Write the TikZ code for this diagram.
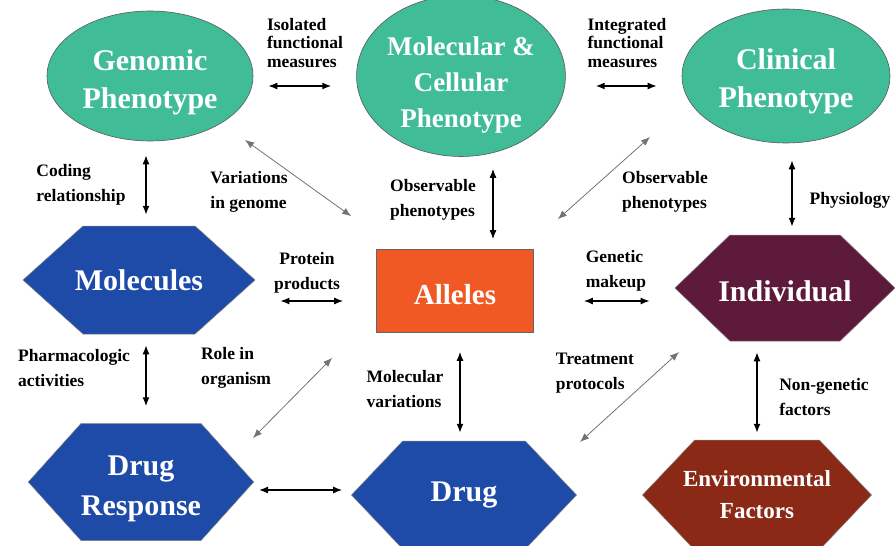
\documentclass[tikz,border=0pt]{standalone}
\usepackage{fontspec}
\setmainfont{Liberation Serif}
\usetikzlibrary{shapes.geometric, shapes.symbols, calc, arrows.meta}

\definecolor{mint}{RGB}{64,188,150}
\definecolor{royal}{RGB}{30,74,168}
\definecolor{flame}{RGB}{240,88,36}
\definecolor{plum}{RGB}{94,26,58}
\definecolor{rust}{RGB}{138,42,22}

% strut that pushes a node's text down
\newcommand{\lowerby}[1]{\rule{0pt}{#1}}

\tikzset{
	pheno/.style={ellipse, draw=black!65, line width=0.6pt, fill=mint, text=white, align=center, inner sep=0pt, font=\fontsize{30}{38}\selectfont\bfseries},
	hexa/.style={signal, signal to=east and west, draw=black!50, line width=0.5pt, text=white, align=center, inner sep=0pt, font=\fontsize{30}{40}\selectfont\bfseries},
	lbl/.style={align=left, inner sep=0pt, font=\fontsize{17.5}{24.5}\selectfont\bfseries},
	dbl/.style={{Latex[length=9pt,width=7pt]}-{Latex[length=9pt,width=7pt]}, line width=1.3pt},
	diag/.style={dbl, line width=0.8pt, draw=black!55},
}

\begin{document}
\begin{tikzpicture}[x=1pt, y=-1pt]
		\useasboundingbox (0,0) rectangle (895,546);
		% phenotypes
		\node[pheno, minimum width=206pt, minimum height=130pt] (gen) at (150,76) {\lowerby{34pt}Genomic\\Phenotype};
		\node[pheno, minimum width=202pt, minimum height=148pt, font=\fontsize{27}{36}\selectfont\bfseries] (mce) at (461,76) {\lowerby{36pt}Molecular \&\\Cellular\\Phenotype};
		\node[pheno, minimum width=208pt, minimum height=134pt] (cli) at (786,76) {\lowerby{32pt}Clinical\\Phenotype};
		% middle row
		\node[hexa, fill=royal, minimum width=232pt, minimum height=108pt, signal pointer angle=84] (mol) at (139,280) {\makebox[0pt]{Molecules}};
		\node[rectangle, draw=black!60, line width=0.6pt, fill=flame, text=white, minimum width=157pt, minimum height=83pt, font=\fontsize{29}{36}\selectfont\bfseries] (all) at (455,291) {\lowerby{28pt}Alleles};
		\node[hexa, fill=plum, minimum width=220pt, minimum height=106pt, signal pointer angle=88] (ind) at (785,288) {\lowerby{28pt}\makebox[0pt]{Individual}};
		% bottom row
		\node[hexa, fill=royal, minimum width=223pt, minimum height=117pt, signal pointer angle=96] (drr) at (141,482) {\lowerby{34pt}Drug\\Response};
		\node[hexa, fill=royal, minimum width=225pt, minimum height=108pt, signal pointer angle=93] (drg) at (464,495) {Drug};
		\node[hexa, fill=rust, minimum width=229pt, minimum height=110pt, signal pointer angle=93, font=\fontsize{23}{32}\selectfont\bfseries] (env) at (757,495) {\makebox[0pt]{Environmental}\\Factors};

		% labels
		\node[lbl, font=\fontsize{17.5}{18.5}\selectfont\bfseries] (iso) at (305,43) {Isolated\\functional\\measures};
		\node[lbl, font=\fontsize{17.5}{18.5}\selectfont\bfseries] (itg) at (627,43) {Integrated\\functional\\measures};
		\node[lbl] (cod) at (81,185) {Coding\\relationship};
		\node[lbl] (var) at (249,192) {Variations\\in genome};
		\node[lbl] (ob1) at (433,200) {Observable\\phenotypes};
		\node[lbl] (ob2) at (665,192) {Observable\\phenotypes};
		\node[lbl] (phy) at (850,200) {Physiology};
		\node[lbl, align=center] (pro) at (307,273) {Protein\\products};
		\node[lbl] (gmk) at (616,271) {Genetic\\makeup};
		\node[lbl] (pha) at (74,368) {Pharmacologic\\activities};
		\node[lbl] (rol) at (236,368) {Role in\\organism};
		\node[lbl] (mvr) at (405,389) {Molecular\\variations};
		\node[lbl] (trt) at (595,373) {Treatment\\protocols};
		\node[lbl] (ngf) at (824,397) {Non-genetic\\factors};

		\draw[dbl, shorten <=15pt, shorten >=25pt] ([shift={(0,10)}]gen.east) -- ([shift={(0,10)}]mce.west);
		\draw[dbl, shorten <=30pt, shorten >=25pt] ([shift={(0,10)}]mce.east) -- ([shift={(0,10)}]cli.west);
		\draw[dbl, shorten <=14pt, shorten >=11pt] ([shift={(-4,0)}]gen.south) -- ([shift={(-4,0)}]gen.south |- mol.north);
		\draw[dbl, shorten <=12pt, shorten >=10pt] ([shift={(38,0)}]all.north |- mce.south) -- ([shift={(38,0)}]all.north);
		\draw[dbl, shorten <=17pt, shorten >=8pt] ([shift={(6,0)}]cli.south) -- ([shift={(6,0)}]cli.south |- ind.north);
		\draw[dbl, shorten <=25pt, shorten >=33pt] ([shift={(0,10)}]all.west -| mol.east) -- ([shift={(0,10)}]all.west);
		\draw[dbl, shorten <=50pt, shorten >=25pt] ([shift={(0,10)}]all.east) -- ([shift={(0,10)}]all.east -| ind.west);
		\draw[dbl, shorten <=11pt, shorten >=17pt] ([shift={(7,0)}]mol.south) -- ([shift={(7,0)}]mol.south |- drr.north);
		\draw[dbl, shorten <=5pt, shorten >=9pt] ([shift={(0,8)}]drr.east) -- ([shift={(0,8)}]drr.east -| drg.west);
		\draw[dbl, shorten <=19pt, shorten >=8pt] ([shift={(5,0)}]all.south) -- ([shift={(5,0)}]all.south |- drg.north);
		\draw[dbl, shorten <=11pt, shorten >=7pt] (env.north |- ind.south) -- (env.north);
		\draw[diag] ([shift={(95,64)}]gen.center) -- ([shift={(-25,-33)}]all.north west);
		\draw[diag] ([shift={(-136,61)}]cli.center) -- ([shift={(24,-30)}]all.north east);
		\draw[diag] ([shift={(-44,25)}]all.south west) -- ([shift={(112,-44)}]drr.center);
		\draw[diag] ([shift={(-106,64)}]ind.center) -- ([shift={(116,-53)}]drg.center);
		\end{tikzpicture}
\end{document}
